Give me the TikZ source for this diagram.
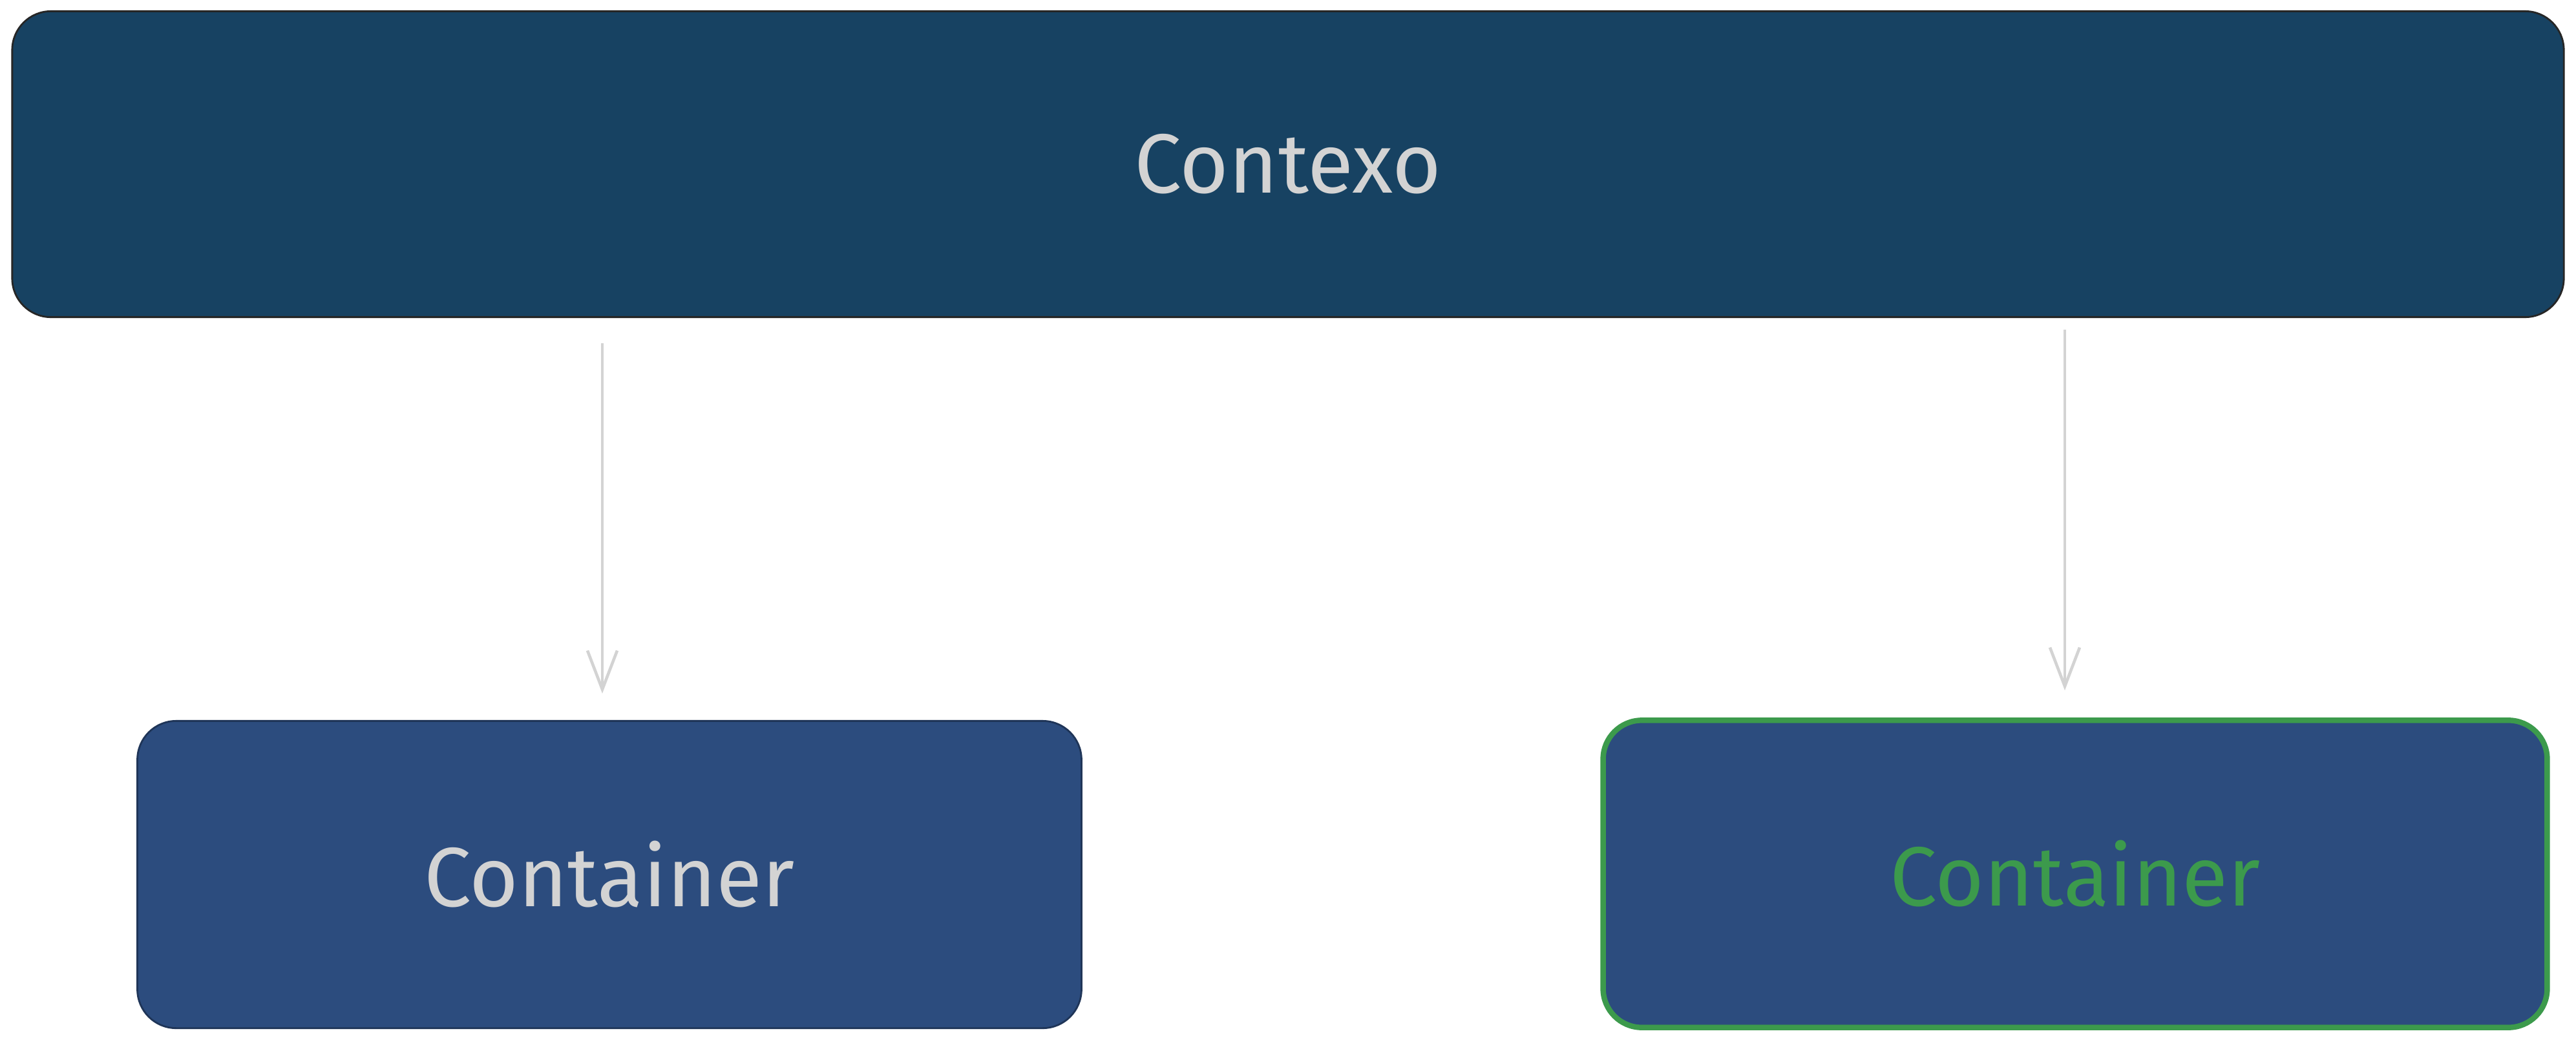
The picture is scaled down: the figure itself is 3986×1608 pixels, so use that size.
\documentclass[tikz,border=0pt]{standalone}
\usepackage{fontspec}
\setmainfont{Fira Sans}
\usetikzlibrary{arrows.meta}

\definecolor{ctxblue}{RGB}{23,66,98}
\definecolor{boxblue}{RGB}{44,76,126}
\definecolor{boxgreen}{RGB}{60,154,76}
\definecolor{txtgray}{RGB}{211,211,211}

\tikzset{
	ctxbox/.style={draw=black!85, line width=0.8pt, fill=ctxblue, rounded corners=0.6cm, text=txtgray},
	contbox/.style={draw=boxblue!70!black, line width=0.8pt, fill=boxblue, rounded corners=0.6cm, text=txtgray, minimum width=14.6cm, minimum height=4.75cm},
	arr/.style={draw=txtgray, line width=1.3pt, -{Straight Barb[length=0.6cm, width=0.46cm, line width=1.3pt]}}
}

\begin{document}
\begin{tikzpicture}[x=0.01cm, y=-0.01cm, font=\fontsize{37}{44}\selectfont]
	\useasboundingbox (0,0) rectangle (3986,1608);

	\node[ctxbox, minimum width=39.46cm, minimum height=4.73cm] (ctx) at (1993,254) {Contexo};

	\node[contbox] (cont1) at (943,1353) {Container};
	\node[contbox, draw=boxgreen, line width=2.4pt, text=boxgreen] (cont2) at (3211,1352) {Container};

	\draw[arr, shorten <=0.39cm, shorten >=0.41cm] ([xshift=-0.11cm]ctx.south -| cont1) -- ([xshift=-0.11cm]cont1.north);
	\draw[arr, shorten <=0.18cm, shorten >=0.42cm] ([xshift=-0.16cm]ctx.south -| cont2) -- ([xshift=-0.16cm]cont2.north);
\end{tikzpicture}
\end{document}
